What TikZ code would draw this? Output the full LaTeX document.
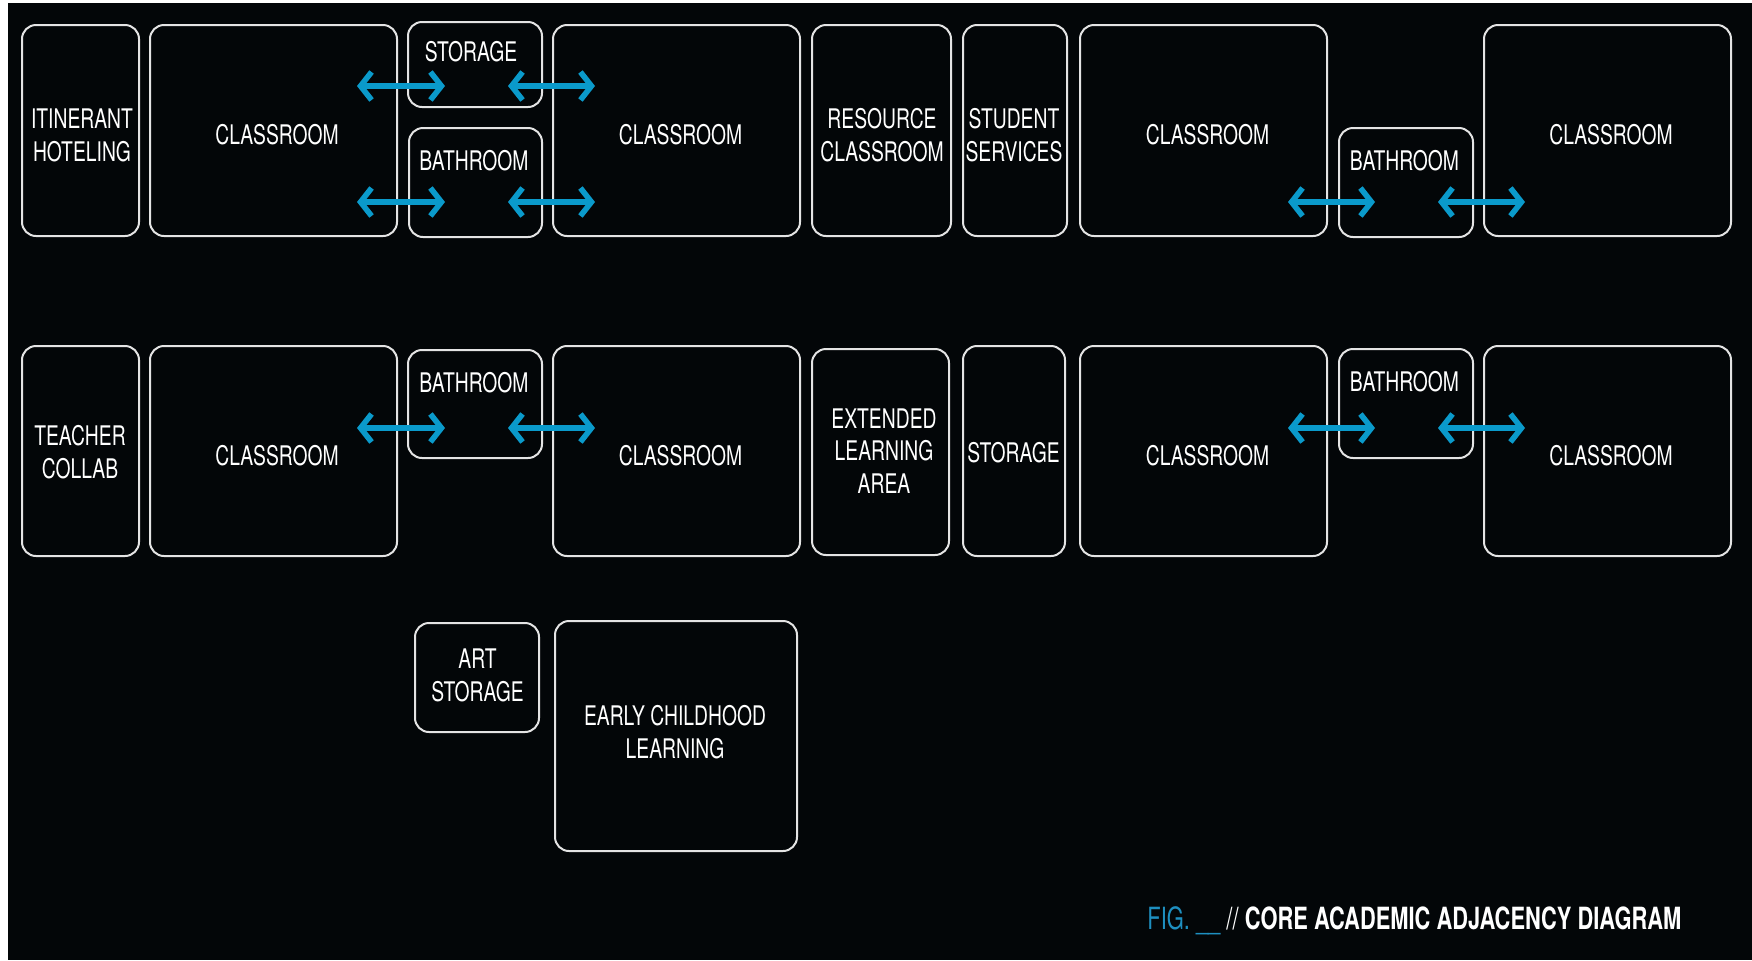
\documentclass[tikz,border=0pt]{standalone}
\usepackage{fontspec}
\setmainfont{TeX Gyre Heros}[FakeStretch=0.715]
\usetikzlibrary{arrows.meta}
\definecolor{bgblack}{HTML}{030608}
\definecolor{boxline}{HTML}{E4E4E4}
\definecolor{arrowblue}{HTML}{0A9ACB}
\definecolor{figblue}{HTML}{1E8FC0}
\begin{document}
\begin{tikzpicture}[x=0.5pt,y=-0.5pt,
  room/.style={draw=boxline,line width=1pt,rounded corners=7pt,inner sep=0pt,rectangle},
  txt/.style={text=white,font=\fontsize{13.5}{16.4}\selectfont,align=center,inner sep=0pt},
  adj/.style={draw=arrowblue,line width=2.8pt,
    {Straight Barb[length=5.5pt,width=14pt]}-{Straight Barb[length=5.5pt,width=14pt]}},
  capt/.style={font=\fontsize{15.3}{17}\selectfont,inner sep=0pt}]
\useasboundingbox (0,0) rectangle (1752,960);
\fill[white] (0,0) rectangle (1752,960);
\fill[bgblack] (8,3) rectangle (1752,960);

% ---- row 1 ----
\node[room,minimum width=58.5pt,minimum height=105.5pt] (it) at (80.5,130.5) {};
\node[room,minimum width=123.5pt,minimum height=105.5pt] (c1) at (273.5,130.5) {};
\node[room,minimum width=67pt,minimum height=42.5pt] (st1) at (475,64.5) {};
\node[room,minimum width=66.5pt,minimum height=54.5pt] (b1) at (475.5,182.5) {};
\node[room,minimum width=123.5pt,minimum height=105.5pt] (c2) at (676.5,130.5) {};
\node[room,minimum width=69.5pt,minimum height=105.5pt] (rc) at (881.5,130.5) {};
\node[room,minimum width=52pt,minimum height=105.5pt] (ss) at (1015,130.5) {};
\node[room,minimum width=123.5pt,minimum height=105.5pt] (c3) at (1203.5,130.5) {};
\node[room,minimum width=67pt,minimum height=54.5pt] (b2) at (1406,182.5) {};
\node[room,minimum width=123.5pt,minimum height=105.5pt] (c4) at (1607.5,130.5) {};

\node[txt] (it-t) at (82,135.5) {ITINERANT\\HOTELING};
\node[txt] (c1-t) at (277,135) {CLASSROOM};
\node[txt] (st1-t) at (471,51.5) {STORAGE};
\node[txt] (b1-t) at (474,161) {BATHROOM};
\node[txt] (c2-t) at (680.5,135) {CLASSROOM};
\node[txt] (rc-t) at (882,135.5) {RESOURCE\\CLASSROOM};
\node[txt] (ss-t) at (1014,135.5) {STUDENT\\SERVICES};
\node[txt] (c3-t) at (1207.5,135) {CLASSROOM};
\node[txt] (b2-t) at (1404.5,161) {BATHROOM};
\node[txt] (c4-t) at (1611,135) {CLASSROOM};

% ---- row 2 ----
\node[room,minimum width=58.5pt,minimum height=105pt] (tc) at (80.5,451) {};
\node[room,minimum width=123.5pt,minimum height=105pt] (c5) at (273.5,451) {};
\node[room,minimum width=67pt,minimum height=54pt] (b3) at (475,404) {};
\node[room,minimum width=123.5pt,minimum height=105pt] (c6) at (676.5,451) {};
\node[room,minimum width=68.5pt,minimum height=103pt] (ela) at (880.5,452) {};
\node[room,minimum width=51pt,minimum height=105pt] (st2) at (1014,451) {};
\node[room,minimum width=123.5pt,minimum height=105pt] (c7) at (1203.5,451) {};
\node[room,minimum width=67pt,minimum height=54.5pt] (b4) at (1406,403.5) {};
\node[room,minimum width=123.5pt,minimum height=105pt] (c8) at (1607.5,451) {};

\node[txt] (tc-t) at (80,452) {TEACHER\\COLLAB};
\node[txt] (c5-t) at (277,456) {CLASSROOM};
\node[txt] (b3-t) at (474,383) {BATHROOM};
\node[txt] (c6-t) at (680.5,456) {CLASSROOM};
\node[txt] (ela-t) at (884,451) {EXTENDED\\LEARNING\\AREA};
\node[txt] (st2-t) at (1013.5,452.5) {STORAGE};
\node[txt] (c7-t) at (1207.5,456) {CLASSROOM};
\node[txt] (b4-t) at (1404.5,382) {BATHROOM};
\node[txt] (c8-t) at (1611,456) {CLASSROOM};

% ---- row 3 ----
\node[room,minimum width=62pt,minimum height=54.5pt] (as) at (477,677.5) {};
\node[room,minimum width=121pt,minimum height=115pt] (ecl) at (676,736) {};
\node[txt] (as-t) at (477.5,675.5) {ART\\STORAGE};
\node[txt] (ecl-t) at (675,732.5) {EARLY CHILDHOOD\\LEARNING};

% ---- adjacency arrows ----
\coordinate (a1s) at (357,86);   \coordinate (a1e) at (445,86);
\coordinate (a2s) at (508,86);   \coordinate (a2e) at (595,86);
\coordinate (a3s) at (357,202);  \coordinate (a3e) at (445,202);
\coordinate (a4s) at (508,202);  \coordinate (a4e) at (595,202);
\coordinate (a5s) at (1288,202); \coordinate (a5e) at (1375,202);
\coordinate (a6s) at (1438,202); \coordinate (a6e) at (1525,202);
\coordinate (a7s) at (357,428);  \coordinate (a7e) at (445,428);
\coordinate (a8s) at (508,428);  \coordinate (a8e) at (595,428);
\coordinate (a9s) at (1288,428); \coordinate (a9e) at (1375,428);
\coordinate (a10s) at (1438,428); \coordinate (a10e) at (1525,428);
\foreach \k in {1,...,10}{\draw[adj] (a\k s) -- (a\k e);}

% ---- caption ----
\node[capt,anchor=base west] (cap) at (1147,929)
  {\textcolor{figblue}{FIG. \_\_} \textcolor{white}{// \textbf{CORE ACADEMIC ADJACENCY DIAGRAM}}};
\end{tikzpicture}
\end{document}
